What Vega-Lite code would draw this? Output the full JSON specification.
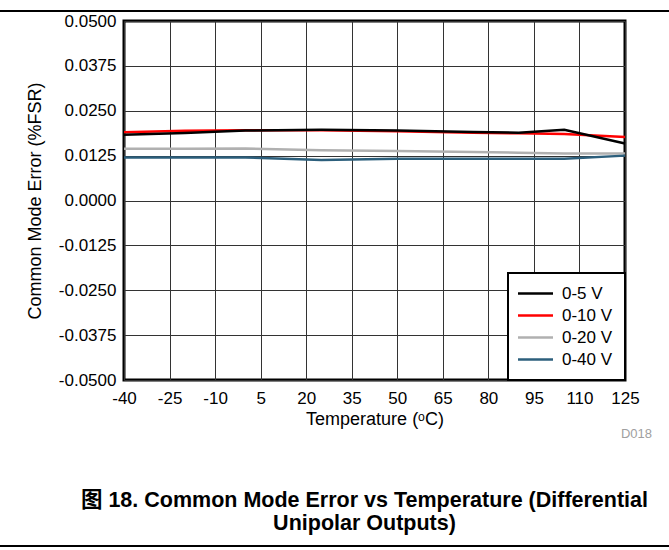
{
  "$schema": "https://vega.github.io/schema/vega-lite/v6.json",
  "width": 501,
  "height": 359,
  "autosize": {"type": "none"},
  "padding": {"left": 124, "top": 21, "right": 44, "bottom": 170},
  "background": "#ffffff",
  "config": {
    "font": "Liberation Sans",
    "view": {"stroke": "#000000", "strokeWidth": 3},
    "legend": {"strokeWidth": 2},
    "axis": {
      "labelFont": "Liberation Sans",
      "titleFont": "Liberation Sans",
      "labelFontSize": 17,
      "titleFontSize": 18,
      "titleFontWeight": "normal",
      "labelColor": "#000000",
      "titleColor": "#000000",
      "ticks": false,
      "domain": false,
      "gridColor": "#333333",
      "gridWidth": 1,
      "gridOpacity": 1
    }
  },
  "data": {
    "values": [
      {"T": -40, "v": 0.0190, "s": "0-10 V"},
      {"T": -20, "v": 0.0194, "s": "0-10 V"},
      {"T": 0, "v": 0.0196, "s": "0-10 V"},
      {"T": 25, "v": 0.0196, "s": "0-10 V"},
      {"T": 50, "v": 0.0193, "s": "0-10 V"},
      {"T": 75, "v": 0.0189, "s": "0-10 V"},
      {"T": 90, "v": 0.0187, "s": "0-10 V"},
      {"T": 105, "v": 0.0185, "s": "0-10 V"},
      {"T": 125, "v": 0.0177, "s": "0-10 V"},
      {"T": -40, "v": 0.0144, "s": "0-20 V"},
      {"T": -20, "v": 0.0144, "s": "0-20 V"},
      {"T": 0, "v": 0.0145, "s": "0-20 V"},
      {"T": 25, "v": 0.0140, "s": "0-20 V"},
      {"T": 50, "v": 0.0138, "s": "0-20 V"},
      {"T": 75, "v": 0.0135, "s": "0-20 V"},
      {"T": 90, "v": 0.0133, "s": "0-20 V"},
      {"T": 105, "v": 0.0131, "s": "0-20 V"},
      {"T": 125, "v": 0.0131, "s": "0-20 V"},
      {"T": -40, "v": 0.0120, "s": "0-40 V"},
      {"T": -20, "v": 0.0120, "s": "0-40 V"},
      {"T": 0, "v": 0.0120, "s": "0-40 V"},
      {"T": 25, "v": 0.0113, "s": "0-40 V"},
      {"T": 50, "v": 0.0116, "s": "0-40 V"},
      {"T": 75, "v": 0.0116, "s": "0-40 V"},
      {"T": 90, "v": 0.0116, "s": "0-40 V"},
      {"T": 105, "v": 0.0116, "s": "0-40 V"},
      {"T": 125, "v": 0.0125, "s": "0-40 V"},
      {"T": -40, "v": 0.0183, "s": "0-5 V"},
      {"T": -20, "v": 0.0188, "s": "0-5 V"},
      {"T": 0, "v": 0.0195, "s": "0-5 V"},
      {"T": 25, "v": 0.0197, "s": "0-5 V"},
      {"T": 50, "v": 0.0195, "s": "0-5 V"},
      {"T": 75, "v": 0.0191, "s": "0-5 V"},
      {"T": 90, "v": 0.0189, "s": "0-5 V"},
      {"T": 105, "v": 0.0197, "s": "0-5 V"},
      {"T": 125, "v": 0.0159, "s": "0-5 V"}
    ]
  },
  "layer": [
    {
      "mark": {"type": "line", "strokeWidth": 2.5},
      "encoding": {
        "x": {
          "field": "T",
          "type": "quantitative",
          "scale": {"domain": [-40, 125], "nice": false, "zero": false},
          "axis": {
            "values": [-40, -25, -10, 5, 20, 35, 50, 65, 80, 95, 110, 125],
            "labelExpr": "datum.value < 0 ? '-' + format(-datum.value, 'd') : format(datum.value, 'd')",
            "title": "Temperature (ᵒC)",
            "labelPadding": 10,
            "titlePadding": 4,
            "labelFlush": false
          }
        },
        "y": {
          "field": "v",
          "type": "quantitative",
          "scale": {"domain": [-0.05, 0.05], "nice": false, "zero": false},
          "axis": {
            "values": [-0.05, -0.0375, -0.025, -0.0125, 0, 0.0125, 0.025, 0.0375, 0.05],
            "labelExpr": "datum.value < 0 ? '-' + format(-datum.value, '.4f') : format(datum.value, '.4f')",
            "title": "Common Mode Error (%FSR)",
            "labelPadding": 8,
            "titlePadding": 14,
            "labelFlush": false
          }
        },
        "color": {
          "field": "s",
          "type": "nominal",
          "scale": {
            "domain": ["0-5 V", "0-10 V", "0-20 V", "0-40 V"],
            "range": ["#000000", "#ff0000", "#b0b0b0", "#2c5f7c"]
          },
          "legend": {
            "title": null,
            "orient": "bottom-right",
            "offset": 0,
            "fillColor": "#ffffff",
            "strokeColor": "#000000",
            "padding": 12,
            "symbolType": "M-2.1,0H4.9",
            "symbolSize": 100,
            "symbolStrokeWidth": 2.5,
            "labelFontSize": 17,
            "labelFont": "Liberation Sans",
            "labelColor": "#000000",
            "labelOffset": 25,
            "rowPadding": 4
          }
        }
      }
    },
    {
      "data": {"values": [{"lbl": "D018"}]},
      "mark": {"type": "text", "align": "right", "baseline": "middle", "fontSize": 13, "color": "#a0a0a0", "font": "Liberation Sans"},
      "encoding": {
        "x": {"datum": 133.9},
        "y": {"datum": -0.06504},
        "text": {"field": "lbl"}
      }
    },
    {
      "data": {"values": [{"cap": "图 18. Common Mode Error vs Temperature (Differential"}]},
      "mark": {"type": "text", "align": "center", "baseline": "alphabetic", "fontSize": 21.5, "fontWeight": "bold", "color": "#000000", "font": "Liberation Sans, Noto Sans CJK SC"},
      "encoding": {
        "x": {"datum": 39.2},
        "y": {"datum": -0.08524},
        "text": {"field": "cap"}
      }
    },
    {
      "data": {"values": [{"cap": "Unipolar Outputs)"}]},
      "mark": {"type": "text", "align": "center", "baseline": "alphabetic", "fontSize": 21.5, "fontWeight": "bold", "color": "#000000", "font": "Liberation Sans, Noto Sans CJK SC"},
      "encoding": {
        "x": {"datum": 39.2},
        "y": {"datum": -0.09178},
        "text": {"field": "cap"}
      }
    },
    {
      "data": {"values": [{"edge": "top"}]},
      "mark": {"type": "rule", "color": "#000000", "strokeWidth": 2},
      "encoding": {
        "x": {"datum": -80.84},
        "x2": {"datum": 139.49},
        "y": {"datum": 0.05279}
      }
    },
    {
      "data": {"values": [{"edge": "bottom"}]},
      "mark": {"type": "rule", "color": "#000000", "strokeWidth": 2},
      "encoding": {
        "x": {"datum": -80.84},
        "x2": {"datum": 139.49},
        "y": {"datum": -0.09624}
      }
    }
  ]
}
